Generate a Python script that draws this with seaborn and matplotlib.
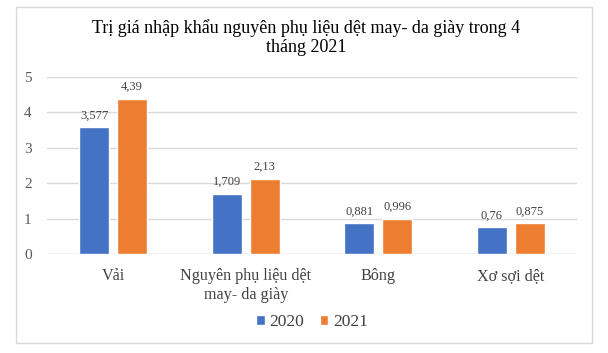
import matplotlib
matplotlib.use("Agg")
import matplotlib.pyplot as plt
import seaborn as sns
import pandas as pd
from matplotlib.patches import Rectangle

categories = ["Vải", "Nguyên phụ liệu dệt\nmay- da giày", "Bông", "Xơ sợi dệt"]
years = ["2020", "2021"]
values_2020 = [3.577, 1.709, 0.881, 0.76]
values_2021 = [4.39, 2.13, 0.996, 0.875]
labels_2020 = ["3,577", "1,709", "0,881", "0,76"]
labels_2021 = ["4,39", "2,13", "0,996", "0,875"]
yticks = [0, 1, 2, 3, 4, 5]
title_lines = ["Trị giá nhập khẩu nguyên phụ liệu dệt may- da giày trong 4", "tháng 2021"]

sns.set_style("white")
plt.rcParams['font.family'] = ['Liberation Serif', 'DejaVu Serif']

df = pd.DataFrame({
    "cat": categories * 2,
    "year": [years[0]] * 4 + [years[1]] * 4,
    "val": values_2020 + values_2021,
})

fig = plt.figure(figsize=(6.08, 3.53), dpi=100)
ax = fig.add_axes([47/608, 1-254/353, (577-47)/608, (254-77)/353])

palette = {"2020": "#4472C4", "2021": "#ED7D31"}
sns.barplot(data=df, x="cat", y="val", hue="year", palette=palette,
            width=0.57, gap=0.2, ax=ax, saturation=1, legend=True)

ax.set_ylim(0, 5)
ax.set_xlim(-0.5, 3.5)
ax.set_yticks(yticks)
ax.set_yticklabels([str(t) for t in yticks], fontsize=11, color="#595959")
ax.yaxis.grid(True, color="#D9D9D9", linewidth=1)
ax.set_axisbelow(True)
for s in ax.spines.values():
    s.set_visible(False)
ax.axhline(0, color="#D9D9D9", linewidth=1, zorder=0)
ax.tick_params(axis="both", length=0)
ax.tick_params(axis="y", pad=11)
ax.tick_params(axis="x", pad=10)
ax.set_xticks(range(4))
ax.set_xticklabels(categories, fontsize=11.6, color="#404040", linespacing=1.3, va="top")
ax.set_xlabel("")
ax.set_ylabel("")

for cont, labs in zip(ax.containers, [labels_2020, labels_2021]):
    ax.bar_label(cont, labels=labs, padding=4, fontsize=9, color="#404040")

leg = ax.legend(loc="center", bbox_to_anchor=(0.5, 1 - (322-77)/(254-77)), ncol=2, frameon=False,
                fontsize=12.5, handlelength=0.5, handleheight=0.5, handletextpad=0.25,
                columnspacing=0.9, labelcolor="#404040", borderpad=0)

fig.text(306/608, 1-33/353, title_lines[0], ha="center", va="baseline", fontsize=13,
         color="#000000")
fig.text(306/608, 1-52/353, title_lines[1], ha="center", va="baseline", fontsize=13,
         color="#000000")

fig.patches.append(Rectangle((16/608, 1-343/353), (592-16)/608, (343-7)/353,
                             transform=fig.transFigure, fill=False,
                             edgecolor="#D9D9D9", linewidth=1))

fig.savefig("out.png", dpi=100)
